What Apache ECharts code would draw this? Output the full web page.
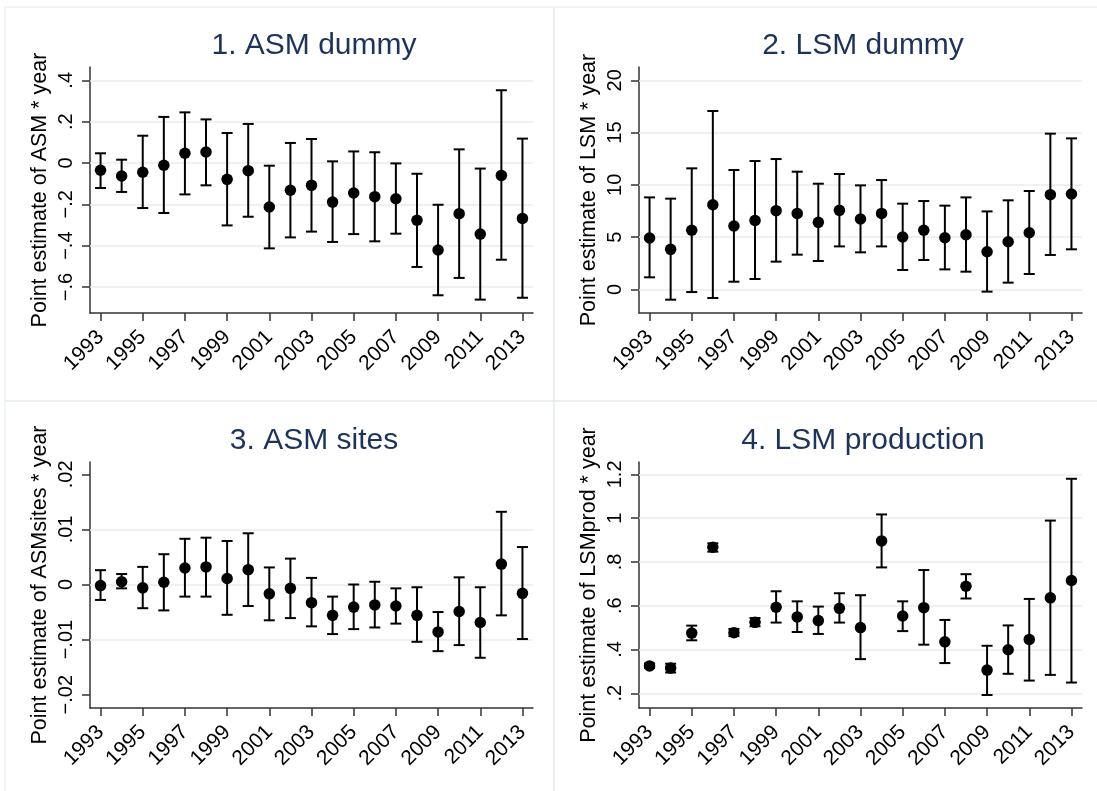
<!DOCTYPE html>
<html>
<head>
<meta charset="utf-8">
<script src="https://cdn.jsdelivr.net/npm/echarts@6/dist/echarts.min.js"></script>
<style>
  html, body { margin: 0; padding: 0; background: #ffffff; }
  #chart { width: 1097px; height: 791px; }
</style>
</head>
<body>
<div id="chart"></div>
<script>
// ---------- data ----------
const years = [1993,1994,1995,1996,1997,1998,1999,2000,2001,2002,2003,2004,2005,2006,2007,2008,2009,2010,2011,2012,2013];
const yearTicks = [1993,1995,1997,1999,2001,2003,2005,2007,2009,2011,2013];

const titles = ['1. ASM dummy', '2. LSM dummy', '3. ASM sites', '4. LSM production'];
const yTitles = ['Point estimate of ASM * year', 'Point estimate of LSM * year',
                 'Point estimate of ASMsites * year', 'Point estimate of LSMprod * year'];

const asmEst = [-0.035,-0.063,-0.045,-0.011,0.047,0.053,-0.079,-0.037,-0.213,-0.132,-0.108,-0.189,-0.145,-0.163,-0.173,-0.277,-0.421,-0.245,-0.344,-0.060,-0.268];
const asmLo  = [-0.121,-0.140,-0.218,-0.242,-0.152,-0.108,-0.302,-0.260,-0.413,-0.360,-0.332,-0.382,-0.344,-0.379,-0.342,-0.503,-0.640,-0.556,-0.661,-0.468,-0.652];
const asmHi  = [0.047,0.016,0.132,0.223,0.245,0.211,0.145,0.189,-0.013,0.097,0.116,0.008,0.056,0.052,-0.002,-0.052,-0.202,0.066,-0.027,0.352,0.118];

const lsmEst = [4.91,3.83,5.65,8.10,6.06,6.60,7.53,7.27,6.41,7.56,6.73,7.27,5.01,5.65,4.94,5.23,3.60,4.56,5.42,9.06,9.12];
const lsmLo  = [1.15,-0.99,-0.26,-0.83,0.73,0.99,2.65,3.32,2.71,4.11,3.54,4.11,1.85,2.81,1.91,1.69,-0.22,0.64,1.47,3.29,3.83];
const lsmHi  = [8.80,8.68,11.58,17.07,11.42,12.28,12.47,11.26,10.11,11.04,9.95,10.46,8.20,8.45,8.01,8.80,7.46,8.52,9.41,14.90,14.45];

const sitesEst = [-0.0002,0.0005,-0.0006,0.0004,0.0030,0.0032,0.0011,0.0027,-0.0017,-0.0007,-0.0033,-0.0056,-0.0041,-0.0037,-0.0039,-0.0056,-0.0086,-0.0049,-0.0069,0.0037,-0.0016];
const sitesLo  = [-0.0028,-0.0007,-0.0043,-0.0047,-0.0022,-0.0022,-0.0055,-0.0039,-0.0065,-0.0061,-0.0076,-0.0090,-0.0081,-0.0078,-0.0071,-0.0104,-0.0121,-0.0110,-0.0133,-0.0056,-0.0099];
const sitesHi  = [0.0026,0.0019,0.0032,0.0055,0.0083,0.0085,0.0079,0.0093,0.0031,0.0047,0.0012,-0.0022,0.0000,0.0005,-0.0007,-0.0005,-0.0050,0.0013,-0.0005,0.0132,0.0068];

const prodEst = [0.325,0.315,0.475,0.867,0.477,0.524,0.593,0.549,0.532,0.588,0.500,0.896,0.553,0.591,0.435,0.689,0.306,0.399,0.446,0.636,0.715];
const prodLo  = [0.315,0.295,0.442,0.847,0.461,0.506,0.523,0.480,0.471,0.523,0.356,0.775,0.484,0.422,0.338,0.633,0.192,0.289,0.258,0.284,0.249];
const prodHi  = [0.336,0.335,0.509,0.885,0.494,0.544,0.666,0.620,0.596,0.657,0.648,1.017,0.620,0.763,0.535,0.744,0.417,0.510,0.631,0.989,1.180];

const asmTicks   = [-0.6,-0.4,-0.2,0,0.2,0.4];
const lsmTicks   = [0,5,10,15,20];
const sitesTicks = [-0.02,-0.01,0,0.01,0.02];
const prodTicks  = [0.2,0.4,0.6,0.8,1,1.2];

const asmGrid   = [-0.6,-0.4,-0.2,0,0.2,0.4];
const lsmGrid   = [0,5,10,15,20];
const sitesGrid = [-0.01,0,0.01];
const prodGrid  = [0.2,0.4,0.6,0.8,1,1.2];

// ---------- layout / style ----------
const FONT = 'Liberation Sans, Arial, sans-serif';
const panels = [
  { est: asmEst,   lo: asmLo,   hi: asmHi,   ticks: asmTicks,   grid: asmGrid,   min: -0.7258, max: 0.4645, left: 90,  top: 67,  titleTop: 26 },
  { est: lsmEst,   lo: lsmLo,   hi: lsmHi,   ticks: lsmTicks,   grid: lsmGrid,   min: -2.265,  max: 21.28,  left: 639, top: 67,  titleTop: 26 },
  { est: sitesEst, lo: sitesLo, hi: sitesHi, ticks: sitesTicks, grid: sitesGrid, min: -0.02242, max: 0.02224, left: 90, top: 462, titleTop: 421 },
  { est: prodEst,  lo: prodLo,  hi: prodHi,  ticks: prodTicks,  grid: prodGrid,  min: 0.1327,  max: 1.2566, left: 639, top: 462, titleTop: 421 }
];
const GW = 443, GH = 246;

function fmt(v) {
  let s = String(+Number(v).toFixed(4));
  let neg = s.charAt(0) === '-';
  if (neg) s = s.slice(1);
  if (s.indexOf('0.') === 0) s = s.slice(1);
  return (neg ? '\u2212' : '') + s;
}

function errRender(params, api) {
  const x = api.value(0), lo = api.value(1), hi = api.value(2);
  const pLo = api.coord([x, lo]);
  const pHi = api.coord([x, hi]);
  const hw = 5.5;
  const st = { stroke: '#000000', lineWidth: 2, fill: null };
  return {
    type: 'group',
    children: [
      { type: 'line', shape: { x1: pLo[0], y1: pLo[1], x2: pHi[0], y2: pHi[1] }, style: st },
      { type: 'line', shape: { x1: pLo[0] - hw, y1: pLo[1], x2: pLo[0] + hw, y2: pLo[1] }, style: st },
      { type: 'line', shape: { x1: pHi[0] - hw, y1: pHi[1], x2: pHi[0] + hw, y2: pHi[1] }, style: st }
    ]
  };
}

const option = {
  backgroundColor: '#ffffff',
  animation: false,
  title: [], grid: [], xAxis: [], yAxis: [], series: [],
  graphic: [
    { type: 'rect', shape: { x: 5, y: 7, width: 549, height: 394 }, style: { fill: null, stroke: '#e3eaed', lineWidth: 1 }, silent: true, z: -10 },
    { type: 'rect', shape: { x: 554, y: 7, width: 549, height: 394 }, style: { fill: null, stroke: '#e3eaed', lineWidth: 1 }, silent: true, z: -10 },
    { type: 'rect', shape: { x: 5, y: 401, width: 549, height: 394 }, style: { fill: null, stroke: '#e3eaed', lineWidth: 1 }, silent: true, z: -10 },
    { type: 'rect', shape: { x: 554, y: 401, width: 549, height: 394 }, style: { fill: null, stroke: '#e3eaed', lineWidth: 1 }, silent: true, z: -10 }
  ]
};

panels.forEach((p, i) => {
  option.title.push({
    text: titles[i], left: p.left + GW / 2 - 2.5, top: p.titleTop, textAlign: 'center',
    textStyle: { fontFamily: FONT, fontSize: 30, fontWeight: 'normal', color: '#1e3358' }
  });
  option.grid.push({ left: p.left, top: p.top, width: GW, height: GH, containLabel: false });
  option.xAxis.push({
    type: 'value', gridIndex: i, min: 1992.5, max: 2013.5,
    axisLine: { show: true, onZero: false, lineStyle: { color: '#333333', width: 1.5 } },
    axisTick: { show: true, length: 8, customValues: yearTicks, lineStyle: { color: '#333333', width: 1.5 } },
    axisLabel: { show: true, customValues: yearTicks, rotate: 45, margin: 21,
      fontFamily: FONT, fontSize: 21, color: '#000000', formatter: v => String(v) },
    splitLine: { show: false }
  });
  option.yAxis.push({
    type: 'value', gridIndex: i, min: p.min, max: p.max,
    name: yTitles[i], nameLocation: 'middle', nameGap: 39, nameRotate: 90,
    nameTextStyle: { fontFamily: FONT, fontSize: 21.5, color: '#000000' },
    axisLine: { show: true, onZero: false, lineStyle: { color: '#333333', width: 1.5 } },
    axisTick: { show: true, length: 8, customValues: p.ticks, lineStyle: { color: '#333333', width: 1.5 } },
    axisLabel: { show: true, customValues: p.ticks, rotate: 90, margin: 14,
      fontFamily: FONT, fontSize: 20, color: '#000000', formatter: v => fmt(v) },
    splitLine: { show: false }
  });
  option.series.push({
    type: 'custom', xAxisIndex: i, yAxisIndex: i, silent: true,
    renderItem: errRender,
    encode: { x: 0, y: [1, 2] },
    data: years.map((y, k) => [y, p.lo[k], p.hi[k]]),
    z: 3,
    markLine: {
      silent: true, symbol: 'none', label: { show: false }, animation: false, z: 1,
      lineStyle: { color: '#e6eef1', width: 1.5, type: 'solid' },
      data: p.grid.map(v => ({ yAxis: v }))
    }
  });
  option.series.push({
    type: 'scatter', xAxisIndex: i, yAxisIndex: i, silent: true,
    symbol: 'circle', symbolSize: 11.5,
    itemStyle: { color: '#000000', opacity: 1 },
    data: years.map((y, k) => [y, p.est[k]]),
    z: 4
  });
});

const chart = echarts.init(document.getElementById('chart'), null, { renderer: 'canvas' });
chart.setOption(option);
</script>
</body>
</html>
